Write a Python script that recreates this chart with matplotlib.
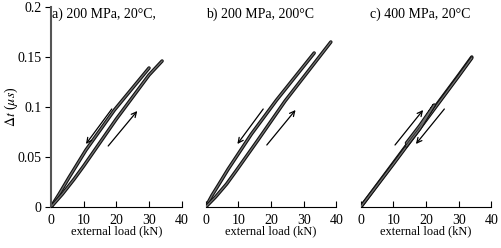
import matplotlib.pyplot as plt

plt.rcParams['font.family'] = ['Liberation Serif', 'DejaVu Serif']
plt.rcParams['mathtext.fontset'] = 'stix'
plt.rcParams['font.size'] = 10

titles = ["a) 200 MPa, 20°C,", "b) 200 MPa, 200°C", "c) 400 MPa, 20°C"]

# panel a: unloading (upper) and loading (lower) branches
a_up_x = [0, 2.5, 5.6, 10.7, 19.4, 30.0]
a_up_y = [0, 0.013, 0.030, 0.057, 0.097, 0.139]
a_lo_x = [0, 3.5, 7.1, 10.0, 20.0, 30.0, 34.0]
a_lo_y = [0, 0.013, 0.028, 0.041, 0.088, 0.132, 0.146]

# panel b
b_up_x = [0, 2.0, 3.9, 6.9, 14.0, 21.7, 33.2]
b_up_y = [0, 0.012, 0.022, 0.038, 0.073, 0.107, 0.154]
b_lo_x = [0, 3.0, 6.4, 9.5, 16.0, 24.3, 38.3]
b_lo_y = [0, 0.010, 0.023, 0.037, 0.067, 0.106, 0.165]

# panel c: nearly linear, small inner loop
c_up_x = [0, 10, 20, 30, 34.0]
c_up_y = [0, 0.044, 0.088, 0.132, 0.150]
c_lo_x = [0, 10, 20, 30, 34.0]
c_lo_y = [0, 0.043, 0.087, 0.131, 0.149]
c_loop_x = [14.0, 18.0, 22.5, 18.0, 14.0]
c_loop_y = [0.064, 0.081, 0.102, 0.078, 0.061]

# arrows (start, end) per panel
arrows = [
    [((18.6, 0.098), (10.7, 0.063)), ((17.5, 0.061), (26.4, 0.096))],
    [((17.6, 0.098), (9.7, 0.063)), ((18.7, 0.062), (27.5, 0.097))],
    [((10.5, 0.062), (19.1, 0.097)), ((25.6, 0.098), (16.9, 0.063))],
]

series = [
    [(a_up_x, a_up_y), (a_lo_x, a_lo_y)],
    [(b_up_x, b_up_y), (b_lo_x, b_lo_y)],
    [(c_up_x, c_up_y), (c_lo_x, c_lo_y), (c_loop_x, c_loop_y)],
]

fig = plt.figure(figsize=(5.01, 2.48), dpi=100)
lefts = [51 / 501, 205.7 / 501, 360.7 / 501]
width = 130.7 / 501
bottom = (248 - 207) / 248
height = 200 / 248
title_x = [0.01, 0.0, 0.07]

for i in range(3):
    ax = fig.add_axes([lefts[i], bottom, width, height])
    for xs, ys in series[i]:
        ax.plot(xs, ys, color='#111111', lw=2.5, solid_capstyle='round')
        ax.plot(xs, ys, color='#707070', lw=0.9)
    for (s, e) in arrows[i]:
        ax.annotate('', xy=e, xytext=s,
                    arrowprops=dict(arrowstyle='->', color='black', lw=0.9,
                                    mutation_scale=9, shrinkA=0, shrinkB=0))
    ax.set_xlim(0, 40)
    ax.set_ylim(0, 0.2)
    ax.set_xticks([0, 10, 20, 30, 40])
    ax.spines['top'].set_visible(False)
    ax.spines['right'].set_visible(False)
    ax.tick_params(axis='x', direction='in', length=4, pad=5)
    ax.set_xlabel("external load (kN)", labelpad=-1, fontsize=9)
    ax.text(title_x[i], 0.965, titles[i], transform=ax.transAxes,
            ha='left', va='center')
    if i == 0:
        ax.set_yticks([0, 0.05, 0.1, 0.15, 0.2])
        ax.set_yticklabels(["0", "0.05", "0.1", "0.15", "0.2"])
        ax.tick_params(axis='y', direction='out', length=4, pad=3)
        ax.spines['left'].set_color('#555555')
        ax.spines['left'].set_linewidth(1.5)
        ax.set_ylabel(r"$\Delta t$ ($\mu s$)")
        ax.yaxis.set_label_coords(-0.235, 0.5)
    else:
        ax.spines['left'].set_visible(False)
        ax.set_yticks([])
    ax.patch.set_alpha(0)

fig.savefig("out.png", dpi=100)
